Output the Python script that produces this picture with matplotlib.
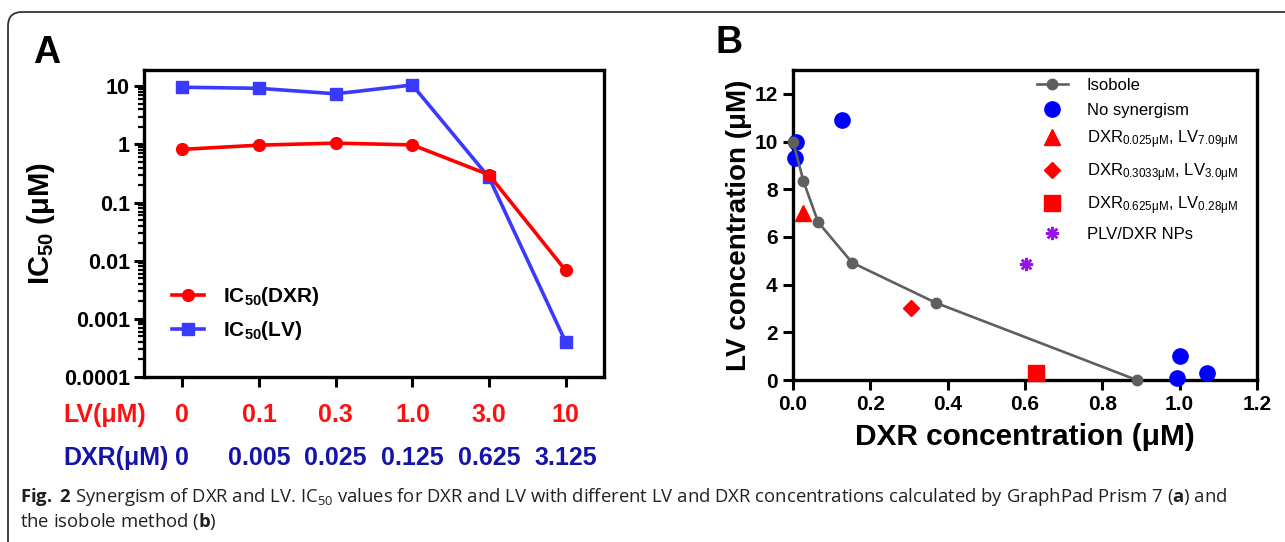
import numpy as np
import matplotlib.pyplot as plt
from matplotlib.patches import FancyBboxPatch
from matplotlib.ticker import LogLocator, NullFormatter, FixedLocator

plt.rcParams['font.family'] = ['Liberation Sans', 'DejaVu Sans']
plt.rcParams['mathtext.fontset'] = 'custom'
plt.rcParams['mathtext.default'] = 'regular'
plt.rcParams['mathtext.bf'] = 'Open Sans:bold'
plt.rcParams['mathtext.rm'] = 'Open Sans'

# panel A data
lv_labels = ['0', '0.1', '0.3', '1.0', '3.0', '10']
dxr_labels = ['0', '0.005', '0.025', '0.125', '0.625', '3.125']
ic50_dxr = [0.82, 0.97, 1.05, 0.98, 0.30, 0.0068]
ic50_lv = [9.6, 9.2, 7.4, 10.5, 0.27, 0.0004]

# panel B data
iso_x = [0.0, 0.027, 0.065, 0.153, 0.369, 0.889]
iso_y = [10.0, 8.34, 6.62, 4.92, 3.24, 0.0]
nosyn_x = [0.007, 0.005, 0.126, 1.0, 0.993, 1.071]
nosyn_y = [10.0, 9.32, 10.9, 1.0, 0.1, 0.31]
tri_pt = (0.025, 7.0)
dia_pt = (0.304, 3.0)
sq_pt = (0.628, 0.28)
np_pt = (0.603, 4.88)

W, H = 1285, 542
fig = plt.figure(figsize=(W / 100, H / 100), dpi=100)

# outer frame
frame = FancyBboxPatch((8, -60), 1400, H - 12 + 60, boxstyle='round,pad=0,rounding_size=14',
                       transform=None, fill=False, edgecolor='#333333', linewidth=1.3)
fig.patches.append(frame)

# ---------- panel A ----------
axA = fig.add_axes([144 / W, 1 - 377 / H, 460 / W, 307 / H])
xs = np.arange(len(lv_labels))
axA.plot(xs, ic50_dxr, color='#ff0000', lw=2.6, marker='o', ms=8.5, label='IC$_{50}$(DXR)', zorder=3)
axA.plot(xs, ic50_lv, color='#3a3aff', lw=2.6, marker='s', ms=8, label='IC$_{50}$(LV)', zorder=2)
axA.set_yscale('log')
axA.set_ylim(1e-4, 19)
axA.set_xlim(-0.5, 5.5)
axA.yaxis.set_major_locator(FixedLocator([1e-4, 1e-3, 1e-2, 1e-1, 1, 10]))
axA.set_yticklabels(['0.0001', '0.001', '0.01', '0.1', '1', '10'])
axA.yaxis.set_minor_locator(LogLocator(base=10, subs=np.arange(2, 10)))
axA.yaxis.set_minor_formatter(NullFormatter())
axA.set_xticks(xs)
axA.set_xticklabels([])
axA.tick_params(axis='y', which='major', length=7, width=2.2, labelsize=15.5, pad=3)
axA.tick_params(axis='y', which='minor', length=4, width=1.6)
axA.tick_params(axis='x', length=7, width=2.2)
for lab in axA.get_yticklabels():
    lab.set_fontweight('bold')
for sp in axA.spines.values():
    sp.set_linewidth(2.4)
axA.set_ylabel('IC$_{50}$ (μM)', fontsize=21, fontweight='bold')
axA.yaxis.set_label_coords(-0.19, 0.5)

tr = axA.get_xaxis_transform()
axA.text(-0.176, -0.124, 'LV(μM)', transform=axA.transAxes, color='#ff1010',
         fontsize=18, fontweight='bold', ha='left', va='center')
axA.text(-0.176, -0.264, 'DXR(μM)', transform=axA.transAxes, color='#1414a8',
         fontsize=18, fontweight='bold', ha='left', va='center')
for i in range(len(xs)):
    axA.text(xs[i], -0.124, lv_labels[i], transform=tr, color='#ff1010',
             fontsize=18, fontweight='bold', ha='center', va='center')
    axA.text(xs[i], -0.264, dxr_labels[i], transform=tr, color='#1414a8',
             fontsize=18, fontweight='bold', ha='center', va='center')

legA = axA.legend(loc='upper left', bbox_to_anchor=(0.06, 0.30), frameon=False,
                  prop={'size': 15, 'weight': 'bold'}, handlelength=1.55,
                  handletextpad=0.9, labelspacing=0.55, borderpad=0, borderaxespad=0)

fig.text(33 / W, 1 - 53 / H, 'A', fontsize=27, fontweight='bold', va='center', ha='left')

# ---------- panel B ----------
axB = fig.add_axes([793 / W, 1 - 380 / H, 464 / W, 310 / H])
axB.plot(iso_x, iso_y, color='#5f5f5f', lw=1.9, marker='o', ms=7.5, label='Isobole', zorder=4)
axB.plot(nosyn_x, nosyn_y, ls='none', marker='o', color='#0000ff', ms=11, label='No synergism', zorder=3)
axB.plot([tri_pt[0]], [tri_pt[1]], ls='none', marker='^', color='#ff0000', ms=11,
         label='DXR$_{0.025μM}$, LV$_{7.09μM}$', zorder=3)
axB.plot([dia_pt[0]], [dia_pt[1]], ls='none', marker='D', color='#ff0000', ms=8,
         label='DXR$_{0.3033μM}$, LV$_{3.0μM}$', zorder=3)
axB.plot([sq_pt[0]], [sq_pt[1]], ls='none', marker='s', color='#ff0000', ms=11,
         label='DXR$_{0.625μM}$, LV$_{0.28μM}$', zorder=5)
axB.plot([np_pt[0]], [np_pt[1]], ls='none', marker=(8, 2, 0), color='#9a10e8', ms=9.5, mew=1.8,
         label='PLV/DXR NPs', zorder=3)
axB.set_xlim(0, 1.2)
axB.set_ylim(0, 13)
axB.set_xticks(np.arange(0, 1.21, 0.2))
axB.set_xticklabels(['0.0', '0.2', '0.4', '0.6', '0.8', '1.0', '1.2'])
axB.set_yticks(np.arange(0, 13, 2))
axB.tick_params(length=7, width=2.2, labelsize=15, pad=4)
for lab in axB.get_xticklabels() + axB.get_yticklabels():
    lab.set_fontweight('bold')
for sp in axB.spines.values():
    sp.set_linewidth(2.4)
    sp.set_zorder(1)
axB.set_xlabel('DXR concentration (μM)', fontsize=21.5, fontweight='bold', labelpad=6)
axB.set_ylabel('LV concentration (μM)', fontsize=20, fontweight='bold', labelpad=2)
for ln in axB.lines:
    ln.set_clip_on(False)

axB.legend(loc='upper left', bbox_to_anchor=(0.525, 0.975), frameon=False,
           prop={'size': 12}, handlelength=1.9, handletextpad=1.1, labelspacing=0.62,
           borderpad=0, borderaxespad=0, numpoints=1)

fig.text(715 / W, 1 - 43 / H, 'B', fontsize=27, fontweight='bold', va='center', ha='left')

# ---------- caption ----------
cap1 = (r'$\mathbf{Fig.}$ $\mathbf{2}$ Synergism of DXR and LV. IC$_{50}$ values for DXR and LV with different LV '
        r'and DXR concentrations calculated by GraphPad Prism 7 ($\mathbf{a}$) and')
cap2 = r'the isobole method ($\mathbf{b}$)'
fig.text(20 / W, 1 - 497 / H, cap1, fontsize=13.3, family='Open Sans', color='#231f20', va='center')
fig.text(20 / W, 1 - 521 / H, cap2, fontsize=13.3, family='Open Sans', color='#231f20', va='center')

fig.savefig('out.png', dpi=100)
